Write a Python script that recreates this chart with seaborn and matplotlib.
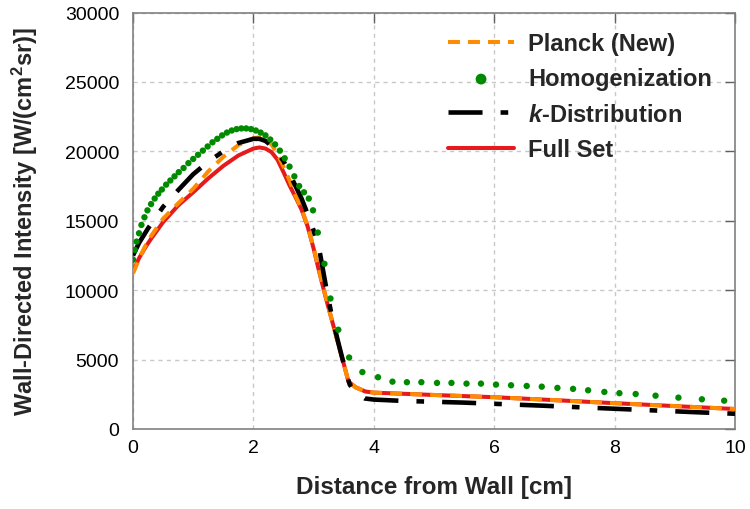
import numpy as np
import pandas as pd
import matplotlib
matplotlib.use("Agg")
import matplotlib.pyplot as plt
import seaborn as sns

# ---- data -------------------------------------------------------------
# Full Set (line-by-line reference)
full_x = [0.0, 0.1, 0.2, 0.3, 0.5, 0.75, 1.0, 1.25, 1.5, 1.75, 2.0, 2.1, 2.2,
          2.3, 2.4, 2.5, 2.6, 2.7, 2.8, 2.9, 3.0, 3.1, 3.2, 3.3, 3.4, 3.5,
          3.58, 3.7, 3.86, 4.0, 5.0, 6.0, 7.0, 8.0, 9.0, 10.0]
full_y = [11350, 12300, 13050, 13700, 14900, 16100, 17050, 18050, 18950, 19700,
          20200, 20280, 20200, 19950, 19400, 18500, 17550, 16700, 15800, 14600,
          13000, 11200, 9500, 7900, 6300, 4700, 3400, 3000, 2700, 2620, 2450,
          2290, 2080, 1860, 1650, 1440]

# Planck (New)
planck_x = [0.0, 0.1, 0.2, 0.3, 0.5, 0.75, 1.0, 1.25, 1.5, 1.75, 2.0, 2.1, 2.2,
            2.3, 2.4, 2.5, 2.6, 2.7, 2.8, 2.9, 3.0, 3.1, 3.2, 3.3, 3.4, 3.5,
            3.58, 3.7, 3.86, 4.0, 5.0, 6.0, 7.0, 8.0, 9.0, 10.0]
planck_y = [11200, 12250, 13150, 13900, 15150, 16250, 17300, 18550, 19600, 20450,
            20950, 21000, 20850, 20500, 19800, 18900, 17900, 16800, 15850, 14650,
            13050, 11250, 9550, 7900, 6300, 4700, 3400, 3000, 2700, 2620, 2450,
            2290, 2080, 1860, 1650, 1440]

# k-Distribution
kdist_x = [0.0, 0.1, 0.25, 0.5, 0.75, 1.0, 1.25, 1.5, 1.75, 2.0, 2.1, 2.2, 2.3,
           2.4, 2.5, 2.6, 2.7, 2.8, 2.9, 3.0, 3.1, 3.2, 3.3, 3.4, 3.5, 3.6,
           3.7, 3.85, 4.0, 4.5, 5.5, 6.8, 8.1, 9.4, 10.0]
kdist_y = [12500, 13400, 14450, 16000, 17200, 18350, 19250, 20000, 20600, 20900,
           20900, 20750, 20400, 19900, 19300, 18400, 17500, 16600, 15500, 14300,
           12800, 10400, 8200, 6400, 4700, 3200, 2600, 2200, 2120, 2020, 1900,
           1680, 1440, 1200, 1100]

# Homogenization
homog_x = [0.00, 0.03, 0.06, 0.10, 0.14, 0.19, 0.24, 0.30, 0.36, 0.42, 0.48,
           0.55, 0.62, 0.69, 0.76, 0.84, 0.92, 1.00, 1.08, 1.16, 1.24, 1.32,
           1.40, 1.48, 1.56, 1.64, 1.72, 1.80, 1.88, 1.96, 2.04, 2.12, 2.20,
           2.28, 2.36, 2.44, 2.52, 2.60, 2.68, 2.76, 2.84, 2.92, 2.99, 3.07,
           3.18, 3.28, 3.41, 3.59, 3.81, 4.07, 4.31, 4.55, 4.79, 5.05, 5.29,
           5.54, 5.78, 6.03, 6.28, 6.54, 6.79, 7.05, 7.31, 7.56, 7.83, 8.08,
           8.35, 8.68, 9.06, 9.45, 9.82]
homog_y = [12200, 12900, 13500, 14100, 14700, 15250, 15750, 16200, 16600, 16950,
           17250, 17600, 17900, 18200, 18500, 18800, 19150, 19450, 19750, 20050,
           20350, 20650, 20900, 21150, 21350, 21500, 21600, 21650, 21650, 21600,
           21500, 21350, 21150, 20850, 20500, 20050, 19500, 18900, 18200, 17500,
           17050, 16600, 15750, 14150, 11900, 9400, 7150, 5150, 4100, 3730, 3410,
           3370, 3370, 3320, 3320, 3270, 3270, 3200, 3150, 3100, 3050, 2960,
           2890, 2790, 2670, 2580, 2520, 2400, 2260, 2140, 2040]

x_ticks = [0, 2, 4, 6, 8, 10]
y_ticks = [0, 5000, 10000, 15000, 20000, 25000, 30000]

# ---- style ------------------------------------------------------------
sns.set_theme(style="white")
plt.rcParams["font.family"] = ["Liberation Sans", "DejaVu Sans"]
plt.rcParams["lines.scale_dashes"] = False
plt.rcParams["mathtext.fontset"] = "custom"
plt.rcParams["mathtext.rm"] = "Liberation Sans:bold"
plt.rcParams["mathtext.bf"] = "Liberation Sans:bold"
plt.rcParams["mathtext.it"] = "Liberation Sans:italic:bold"

fig = plt.figure(figsize=(7.5, 5.1), dpi=100)
ax = fig.add_axes([133 / 750, 1 - 430 / 510, (735 - 133) / 750, (430 - 13.5) / 510])

c_red = "#e41a1c"
c_orange = "#ff8c00"
c_green = "#008a00"

sns.lineplot(x=full_x, y=full_y, ax=ax, color=c_red, lw=2.9, sort=False,
             estimator=None, label="Full Set", zorder=3)
sns.lineplot(x=planck_x, y=planck_y, ax=ax, color=c_orange, lw=2.9, sort=False,
             estimator=None, label="Planck (New)", zorder=4,
             linestyle=(0, (8.6, 5.8)))
sns.lineplot(x=kdist_x, y=kdist_y, ax=ax, color="black", lw=3.3, sort=False,
             estimator=None, label="$k$-Distribution", zorder=5,
             linestyle=(0, (24.5, 13, 5.5, 13)))
sns.scatterplot(x=homog_x, y=homog_y, ax=ax, color=c_green, s=21,
                edgecolor="none", label="Homogenization", zorder=6)

ax.set_xlim(0, 10)
ax.set_ylim(0, 30000)
ax.set_xticks(x_ticks)
ax.set_yticks(y_ticks)
ax.set_xticklabels([str(t) for t in x_ticks])
ax.set_yticklabels([str(t) for t in y_ticks])

ax.grid(True, color="#c8c8c8", linestyle=(0, (3, 3)), lw=1.0)
for s in ax.spines.values():
    s.set_color("#808080")
    s.set_linewidth(1.2)
ax.tick_params(direction="in", length=7, width=1, color="#606060",
               top=True, right=True, labelsize=14, labelcolor="black")
ax.tick_params(axis="x", pad=7)
ax.tick_params(axis="y", pad=10)

ax.set_xlabel("Distance from Wall [cm]", fontsize=17.5, fontweight="bold")
ax.set_ylabel("Wall-Directed Intensity [W/(cm$^{2}$sr)]", fontsize=17,
              fontweight="bold")
ax.xaxis.set_label_coords(0.5, (430 - 476) / 416.5)
ax.yaxis.set_label_coords((40 - 133) / 602, 0.5)

# legend in the order Planck, Homogenization, k-Distribution, Full Set
handles, labels = ax.get_legend_handles_labels()
lookup = dict(zip(labels, handles))
order = ["Planck (New)", "Homogenization", "$k$-Distribution", "Full Set"]
leg = ax.legend([lookup[k] for k in order], order,
                loc="upper left", bbox_to_anchor=(448 / 750, 1 - 33 / 510),
                bbox_transform=fig.transFigure, frameon=False,
                prop={"size": 17, "weight": "bold"}, handlelength=2.8,
                handletextpad=0.6, labelspacing=0.52, borderpad=0,
                borderaxespad=0, markerscale=1.7)

fig.savefig("out.png", dpi=100)
